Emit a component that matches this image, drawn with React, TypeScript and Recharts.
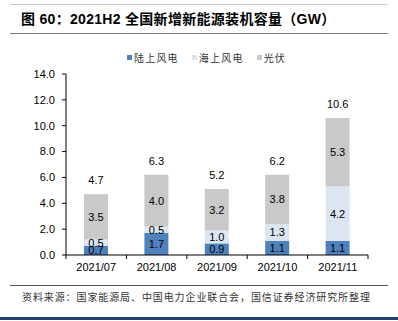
import { Bar, BarChart, LabelList, XAxis, YAxis } from 'recharts';

const months = ['2021/07', '2021/08', '2021/09', '2021/10', '2021/11'];
const onshore = [0.7, 1.7, 0.9, 1.1, 1.1];
const offshore = [0.5, 0.5, 1.0, 1.3, 4.2];
const solar = [3.5, 4.0, 3.2, 3.8, 5.3];
const totals = [4.7, 6.3, 5.2, 6.2, 10.6];
const yTicks = [0, 2, 4, 6, 8, 10, 12, 14];

const FONT = '"Liberation Sans", Arial, "Noto Sans CJK SC", sans-serif';
const CJK = '"Noto Sans CJK SC", sans-serif';

const series = [
  { key: 'onshore', name: '陆上风电', color: '#4f81bd' },
  { key: 'offshore', name: '海上风电', color: '#dce6f2' },
  { key: 'solar', name: '光伏', color: '#c9c9c9' },
];

const data = months.map((m, i) => ({
  month: m,
  onshore: onshore[i],
  offshore: offshore[i],
  solar: solar[i],
  total: totals[i],
}));

// category label + tick marks at the band edges
function MonthTick(props: any) {
  const { x, y, payload, width, visibleTicksCount, index } = props;
  const band = width / visibleTicksCount;
  const left = x - band / 2;
  return (
    <g>
      <line x1={left} x2={left} y1={y - 8} y2={y - 4} stroke="#000" />
      {index === visibleTicksCount - 1 && (
        <line x1={left + band} x2={left + band} y1={y - 8} y2={y - 4} stroke="#000" />
      )}
      <text x={x} y={y + 8} textAnchor="middle" fontSize={11} fill="#000" fontFamily={FONT}>
        {payload.value}
      </text>
    </g>
  );
}

function TotalLabel(props: any) {
  const { x, y, width, index } = props;
  return (
    <text x={x + width / 2} y={y - 10} textAnchor="middle" fontSize={11} fill="#000" fontFamily={FONT}>
      {totals[index].toFixed(1)}
    </text>
  );
}

const segLabel = { fontSize: 11, fill: '#000', fontFamily: FONT };

export default function App() {
  return (
    <div
      style={{
        position: 'absolute',
        left: 0,
        top: 0,
        width: 398,
        height: 321,
        background: '#fff',
        fontFamily: FONT,
        overflow: 'hidden',
      }}
    >
      <div style={{ position: 'absolute', left: 10, right: 10, top: 4, height: 1, background: '#c8c8c8' }} />
      <div
        style={{
          position: 'absolute',
          left: 21,
          top: 8,
          fontSize: 14,
          fontWeight: 'bold',
          color: '#000',
          whiteSpace: 'nowrap',
          letterSpacing: 0.3,
        }}
      >
        图 60：2021H2 全国新增新能源装机容量（GW）
      </div>
      <div style={{ position: 'absolute', left: 10, right: 10, top: 33, height: 1, background: '#777' }} />

      <div
        style={{
          position: 'absolute',
          left: 127,
          top: 50,
          display: 'flex',
          alignItems: 'center',
          fontSize: 10,
          fontFamily: CJK,
          color: '#333',
          letterSpacing: 1.2,
          whiteSpace: 'nowrap',
        }}
      >
        {series.map((s) => (
          <span key={s.key} style={{ display: 'flex', alignItems: 'center', marginRight: 13 }}>
            <span style={{ width: 5, height: 5, background: s.color, marginRight: 2 }} />
            {s.name}
          </span>
        ))}
      </div>

      <BarChart
        width={398}
        height={321}
        data={data}
        margin={{ top: 74, right: 30, left: 0, bottom: 36 }}
        style={{ position: 'absolute', left: 0, top: 0 }}
      >
        <XAxis
          dataKey="month"
          height={30}
          axisLine={{ stroke: '#000' }}
          tickLine={false}
          tick={<MonthTick />}
          interval={0}
        />
        <YAxis
          width={66}
          domain={[0, 14]}
          ticks={yTicks}
          tickFormatter={(v: number) => v.toFixed(1)}
          axisLine={{ stroke: '#000' }}
          tickLine={{ stroke: '#000' }}
          tickSize={4}
          tick={{ fontSize: 11, fill: '#000', fontFamily: FONT, dx: -5 }}
        />
        {series.map((s) => (
          <Bar
            key={s.key}
            dataKey={s.key}
            name={s.name}
            stackId="a"
            fill={s.color}
            barSize={24}
            isAnimationActive={false}
          >
            <LabelList dataKey={s.key} position="center" formatter={(v: number) => v.toFixed(1)} style={segLabel} />
            {s.key === 'solar' && <LabelList dataKey="total" content={<TotalLabel />} />}
          </Bar>
        ))}
      </BarChart>

      <div style={{ position: 'absolute', left: 10, right: 10, top: 285, height: 1, background: '#555' }} />
      <div
        style={{
          position: 'absolute',
          left: 22,
          top: 289,
          fontSize: 10,
          fontFamily: CJK,
          color: '#333',
          letterSpacing: 0.9,
          whiteSpace: 'nowrap',
        }}
      >
        资料来源：国家能源局、中国电力企业联合会，国信证券经济研究所整理
      </div>
      <div style={{ position: 'absolute', left: 0, right: 0, top: 317, height: 3, background: '#1f3f6e' }} />
    </div>
  );
}
